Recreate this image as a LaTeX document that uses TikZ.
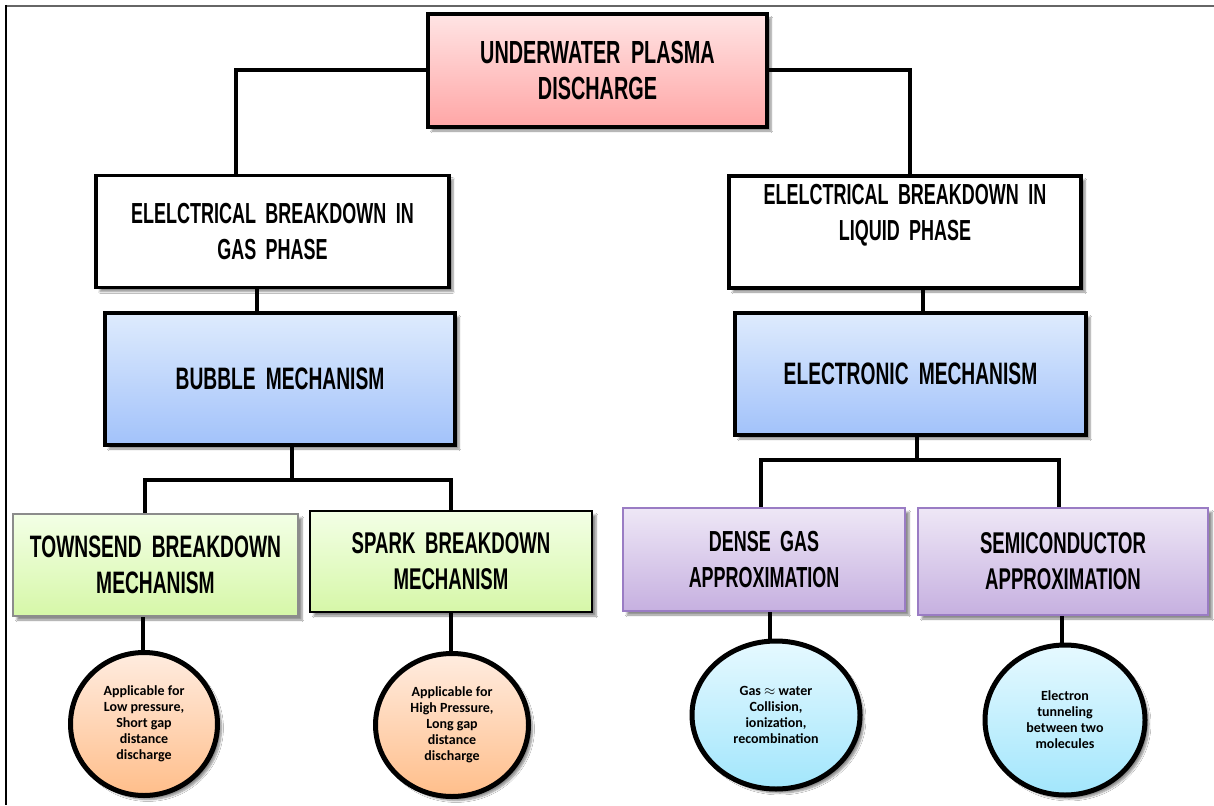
\documentclass[tikz,border=0pt]{standalone}
\usepackage{fontspec}
\setmainfont{Carlito}
\newfontfamily\agency{Liberation Sans}[FakeStretch=0.62, WordSpace=1.9]
\newfontfamily\calib{Carlito}
\usetikzlibrary{shadows.blur,shapes.geometric,backgrounds}
\definecolor{pinkT}{HTML}{FFE4E4}
\definecolor{pinkB}{HTML}{FFA6A6}
\definecolor{blueT}{HTML}{DEEBFD}
\definecolor{blueB}{HTML}{A2C2FA}
\definecolor{greenT}{HTML}{F3FFE6}
\definecolor{greenB}{HTML}{D6F7A8}
\definecolor{purpT}{HTML}{EEE7F6}
\definecolor{purpB}{HTML}{C6B0E0}
\definecolor{purpD}{HTML}{9A7CC4}
\definecolor{orT}{HTML}{FFECE0}
\definecolor{orB}{HTML}{FFBE8A}
\definecolor{cyT}{HTML}{E6F9FF}
\definecolor{cyB}{HTML}{A2E6FC}
\begin{document}
\begin{tikzpicture}[x=1pt,y=-1pt,
  conn/.style={line width=4pt, black},
  shad/.style={blur shadow={shadow xshift=4pt, shadow yshift=-4pt, shadow blur steps=6, shadow opacity=45}},
  boxbase/.style={rectangle, shad, align=center, inner sep=0pt},
  mainbox/.style={boxbase, draw=black, line width=3.5pt},
  fa/.style={font=\agency\bfseries\fontsize{#1}{36}\selectfont},
  pinkbox/.style={mainbox, top color=pinkT, bottom color=pinkB},
  whitebox/.style={mainbox, fill=white},
  bluebox/.style={mainbox, top color=blueT, bottom color=blueB},
  greenbox/.style={boxbase, line width=1.8pt, top color=greenT, bottom color=greenB},
  purpbox/.style={boxbase, draw=purpD, line width=2pt, top color=purpT, bottom color=purpB},
  bub/.style={ellipse, shad, draw=black, line width=5pt, inner sep=0pt, align=center,
    font=\calib\bfseries\fontsize{14}{16}\selectfont},
  orbub/.style={bub, top color=orT, bottom color=orB},
  cybub/.style={bub, top color=cyT, bottom color=cyB}
]
\useasboundingbox (0,0) rectangle (1214,805);

% level 0
\node[pinkbox, fa=32, minimum width=339pt, minimum height=113pt] (top) at (597.5,70.5)
  {\fontsize{32}{35}\selectfont UNDERWATER PLASMA\\DISCHARGE};
% level 1
\node[whitebox, fa=29, minimum width=353pt, minimum height=112pt] (gas) at (272.5,231.5)
  {ELELCTRICAL BREAKDOWN IN\\GAS PHASE};
\node[whitebox, minimum width=352pt, minimum height=112pt,
  label={[fa=29, align=center, yshift=17pt]center:{ELELCTRICAL BREAKDOWN IN\\LIQUID PHASE}}] (liquid) at (905,232) {};
% level 2
\node[bluebox, fa=31, minimum width=350pt, minimum height=132pt] (bubble) at (280,379) {BUBBLE MECHANISM};
\node[bluebox, fa=31, minimum width=351pt, minimum height=122pt] (elec) at (910.5,374) {ELECTRONIC MECHANISM};
% level 3
\node[greenbox, draw=black!45, fa=31, minimum width=285pt, minimum height=102pt] (tw) at (155.5,565)
  {\fontsize{31}{34}\selectfont TOWNSEND BREAKDOWN\\MECHANISM};
\node[greenbox, draw=black, fa=30, minimum width=282pt, minimum height=101pt] (sp) at (451,561.5)
  {SPARK BREAKDOWN\\MECHANISM};
\node[purpbox, fa=29, minimum width=282pt, minimum height=103pt] (dg) at (764,559.5)
  {DENSE GAS\\APPROXIMATION};
\node[purpbox, fa=30, minimum width=290pt, minimum height=107pt] (sc) at (1063,561.5)
  {SEMICONDUCTOR\\APPROXIMATION};
% level 4
\node[orbub, minimum width=147pt, minimum height=143pt] (c1) at (144,724)
  {Applicable for\\Low pressure,\\Short gap\\distance\\discharge};
\node[orbub, minimum width=153pt, minimum height=143pt] (c2) at (452,725)
  {Applicable for\\High Pressure,\\Long gap\\distance\\discharge};
\node[cybub, minimum width=168pt, minimum height=148pt] (c3) at (776,715)
  {Gas $\approx$ water\\Collision,\\ionization,\\recombination};
\node[cybub, minimum width=160pt, minimum height=150pt] (c4) at (1065,720)
  {Electron\\tunneling\\between two\\molecules};

\begin{scope}[on background layer]
\fill[white] (0,0) rectangle (1214,805);
\draw[black!60, line width=2pt] (5,6) -- (1214,6);
\draw[black, line width=1.5pt] (6,5) -- (6,805);
\draw[conn] (top.west) -- (236,0 |- top.west) -- (236,0 |- gas.north);
\draw[conn] (top.east) -- (910,0 |- top.east) -- (910,0 |- liquid.north);
\draw[conn] (257,0 |- gas.south) -- (257,0 |- bubble.north);
\draw[conn] (923,0 |- liquid.south) -- (923,0 |- elec.north);
\draw[conn] (292,0 |- bubble.south) -- (292,480);
\draw[conn] (145,0 |- tw.north) -- (145,480) -- (451,480) -- (451,0 |- sp.north);
\draw[conn] (917,0 |- elec.south) -- (917,460);
\draw[conn] (761,0 |- dg.north) -- (761,460) -- (1059,460) -- (1059,0 |- sc.north);
\draw[conn] (143,0 |- tw.south) -- (143,0 |- c1.north);
\draw[conn] (451,0 |- sp.south) -- (451,0 |- c2.north);
\draw[conn] (770,0 |- dg.south) -- (770,0 |- c3.north);
\draw[conn] (1062,0 |- sc.south) -- (1062,0 |- c4.north);
\end{scope}
\end{tikzpicture}
\end{document}
